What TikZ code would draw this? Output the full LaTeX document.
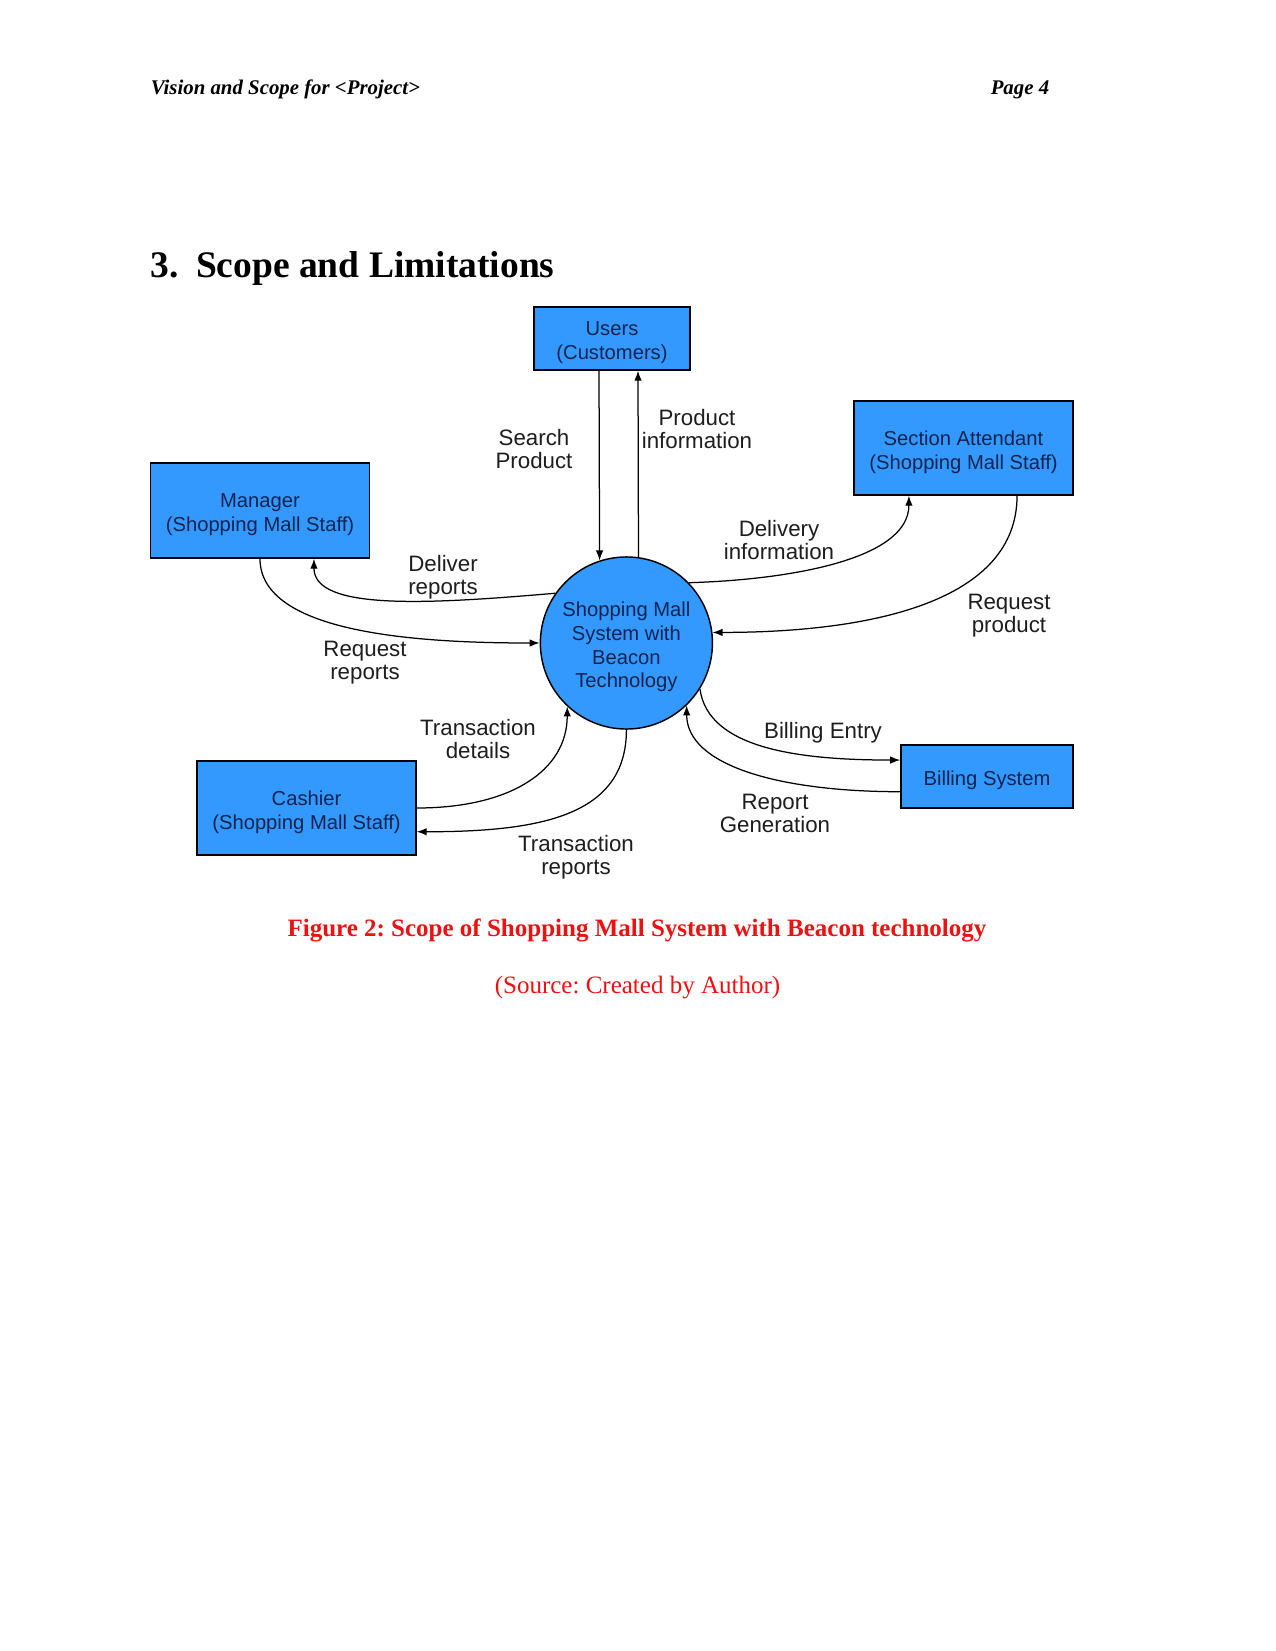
\documentclass[tikz,border=0pt]{standalone}
\usepackage{fontspec}
\setmainfont{Liberation Serif}
\newfontfamily\arialf{Liberation Sans}
\usetikzlibrary{arrows.meta,calc}
\definecolor{boxblue}{HTML}{3399FF}
\definecolor{navytext}{HTML}{0F2350}
\definecolor{lbltext}{HTML}{1E1E1E}
\definecolor{capred}{HTML}{EE1111}
\newcommand\tdown{\rule{0pt}{10.7pt}}
\frenchspacing
\begin{document}
\begin{tikzpicture}[x=0.48pt,y=0.48pt,
  entity/.style={draw=black, line width=0.7pt, fill=boxblue, text=navytext,
    font=\arialf\fontsize{9.7}{11.5}\selectfont, align=center, inner sep=0pt},
  proc/.style={circle, draw=black, line width=0.7pt, fill=boxblue, text=navytext,
    font=\arialf\fontsize{9.7}{11.5}\selectfont, align=center, minimum size=82.6pt, inner sep=0pt},
  flowlbl/.style={text=lbltext, font=\arialf\fontsize{10.7}{11.1}\selectfont, align=center, inner sep=0pt},
  flow/.style={line width=0.6pt, draw=black, -{Latex[length=4.8pt,width=3.6pt]}},
  hdr/.style={font=\fontsize{10}{12}\selectfont\bfseries\itshape, inner sep=0pt},
]
\fill[white] (0,0) rectangle (1275,-1651);
\useasboundingbox (0,0) rectangle (1275,-1651);

% page header and heading
\node[hdr, anchor=base west] (hleft) at (150.5,-94.8) {Vision and Scope for <Project>};
\node[hdr, anchor=base east] (hright) at (1049.6,-94.8) {Page 4};
\node[anchor=base west, inner sep=0pt, font=\fontsize{18}{21}\selectfont\bfseries] (heading) at (150.5,-277) {3.\hspace{8.2pt}Scope and Limitations};

% entities
\node[entity, minimum width=74.9pt, minimum height=30.2pt] (users) at (612,-338.5) {\tdown Users\\(Customers)};
\node[entity, minimum width=105.1pt, minimum height=45.6pt] (mgr) at (260,-510.5) {\tdown Manager\\(Shopping Mall Staff)};
\node[entity, minimum width=105.1pt, minimum height=45.1pt] (sa) at (963.5,-448) {\tdown Section Attendant\\(Shopping Mall Staff)};
\node[entity, minimum width=105.1pt, minimum height=45.1pt] (cash) at (306.5,-808) {\tdown Cashier\\(Shopping Mall Staff)};
\node[entity, minimum width=82.6pt, minimum height=30.2pt] (bill) at (987,-776.5) {\tdown Billing System};
\node[proc] (sys) at (626.4,-643) {\tdown Shopping Mall\\System with\\Beacon\\Technology};

% flows
\draw[flow] ([xshift=-6.24pt]users.south) -- (sys.108.6);
\draw[flow] (sys.82.2) -- ([xshift=12.48pt]users.south);
\draw[flow] (sys.145) .. controls +(-128,-11) and +(0,-52) .. ([xshift=25.9pt]mgr.south);
\draw[flow] (mgr.south) .. controls +(0,-75) and +(-120,0) .. (sys.west);
\draw[flow] (sys.44.5) .. controls +(100,3) and +(0,-64) .. ([xshift=-26.2pt]sa.south);
\draw[flow] ([xshift=25.7pt]sa.south) .. controls +(0,-104) and +(164,0) .. (sys.7);
\draw[flow] (sys.-32) .. controls +(8,-60) and +(-100,0) .. ([yshift=7.9pt]bill.west);
\draw[flow] ([yshift=-7.3pt]bill.west) .. controls +(-121,0) and +(0,-60) .. (sys.-46);
\draw[flow] (cash.east) .. controls +(94,0) and +(0,-64) .. (sys.-133);
\draw[flow] (sys.south) .. controls +(0,-86) and +(124,0) .. ([yshift=-11.4pt]cash.east);

% flow labels
\node[flowlbl] (lsearch) at (534,-449) {Search\\Product};
\node[flowlbl] (lprod) at (697,-429) {Product\\information};
\node[flowlbl] (ldeliver) at (443,-577) {Deliver\\reports};
\node[flowlbl] (lreqrep) at (365,-663) {Request\\reports};
\node[flowlbl] (ldelinfo) at (779,-540) {Delivery\\information};
\node[flowlbl] (lreqprod) at (1009,-616) {Request\\product};
\node[flowlbl] (lbill) at (823,-733) {Billing Entry};
\node[flowlbl] (lrepgen) at (775,-813) {Report\\Generation};
\node[flowlbl] (ltdet) at (478,-739) {Transaction\\details};
\node[flowlbl] (ltrep) at (576,-857) {Transaction\\reports};

% caption
\node[anchor=base, inner sep=0pt, text=capred, font=\fontsize{12}{14}\selectfont\bfseries] (cap) at (637,-936) {Figure 2: Scope of Shopping Mall System with Beacon technology};
\node[anchor=base, inner sep=0pt, text=capred, font=\fontsize{12}{14}\selectfont] (src) at (637.5,-993) {(Source: Created by Author)};
\end{tikzpicture}
\end{document}
